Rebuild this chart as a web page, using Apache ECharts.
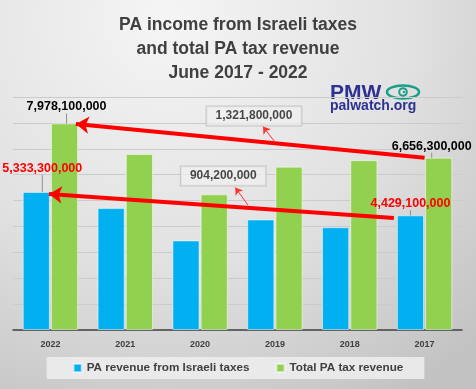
<!DOCTYPE html>
<html>
<head>
<meta charset="utf-8">
<script src="https://cdn.jsdelivr.net/npm/echarts@6/dist/echarts.min.js"></script>
<style>
html,body{margin:0;padding:0;}
#main{width:476px;height:389px;}
</style>
</head>
<body>
<div id="main"></div>
<script>
// ---- data ----
var categories = ['2022', '2021', '2020', '2019', '2018', '2017'];
var israeliTaxes = [5333300000, 4710000000, 3460000000, 4270000000, 3970000000, 4429100000];
var totalTax = [7978100000, 6800000000, 5240000000, 6310000000, 6560000000, 6656300000];
var seriesNames = ['PA revenue from Israeli taxes', 'Total PA tax revenue'];
var diffLabels = ['1,321,800,000', '904,200,000'];

var FONT = 'Liberation Sans, Arial, sans-serif';
function fmt(v) { return v.toLocaleString('en-US'); }

var first = 0, last = categories.length - 1;

function barItems(arr, color, labelIdx) {
  return arr.map(function (v, i) {
    var it = { value: v };
    if (labelIdx.indexOf(i) >= 0) {
      it.label = { show: true, position: 'top', color: color, fontWeight: 'bold', fontSize: 12.5,
        fontFamily: FONT, formatter: function (p) { return fmt(p.value); } };
    }
    return it;
  });
}

// annotation arrows on hidden value x axis (category i spans [i, i+1])
var bigArrows = [
  { coords: [[last + 0.5, totalTax[last]], [first + 0.84, totalTax[first] - 0.02e9]] },
  { coords: [[last + 0.09, israeliTaxes[last] - 0.1e9], [first + 0.48, israeliTaxes[first] - 0.08e9]] }
];
var smallArrows = [
  { coords: [[3.50, 7.26e9], [3.34, 7.86e9]] },
  { coords: [[3.14, 4.83e9], [2.97, 5.50e9]] }
];
var boxPoints = [[3.22, 8.27e9], [2.81, 5.95e9]];

var chart = echarts.init(document.getElementById('main'), null, { renderer: 'canvas' });

var option = {
  backgroundColor: {
    type: 'radial', x: 0.35, y: 0.05, r: 1.15,
    colorStops: [{ offset: 0, color: '#f5f5f5' }, { offset: 0.55, color: '#e1e1e1' }, { offset: 1, color: '#c2c2c2' }]
  },
  animation: false,
  title: {
    text: 'PA income from Israeli taxes\nand total PA tax revenue\nJune 2017 - 2022',
    left: 'center', top: 8,
    textStyle: { fontFamily: FONT, fontSize: 17.5, fontWeight: 'bold', color: '#404040', lineHeight: 24, align: 'center' }
  },
  grid: { left: 13, right: 14, top: 97, bottom: 59, containLabel: false },
  legend: {
    bottom: 10, left: 'center',
    data: seriesNames,
    icon: 'rect', itemWidth: 8, itemHeight: 8, itemGap: 26, itemTextGap: 3,
    backgroundColor: 'rgba(238,238,238,0.85)',
    padding: [5, 21, 5, 26],
    textStyle: { fontFamily: FONT, fontSize: 11.7, fontWeight: 'bold', color: '#404040' }
  },
  xAxis: [
    {
      type: 'category', data: categories,
      axisLine: { lineStyle: { color: '#404040', width: 1.5 } },
      axisTick: { show: false },
      axisLabel: { fontFamily: FONT, fontSize: 9, fontWeight: 'bold', color: '#404040', margin: 10 }
    },
    { type: 'value', min: 0, max: 6, show: false }
  ],
  yAxis: {
    type: 'value', min: 0, max: 9e9, interval: 1e9,
    axisLabel: { show: false }, axisLine: { show: false }, axisTick: { show: false },
    splitLine: { lineStyle: { color: '#cbcbcb', width: 1 } }
  },
  series: [
    {
      name: seriesNames[0], type: 'bar', barGap: '4%', barCategoryGap: '26%',
      itemStyle: { color: '#00B0F0', borderColor: 'rgba(255,255,255,0.5)', borderWidth: 1 },
      data: barItems(israeliTaxes, '#FF0000', [first, last]),
      labelLayout: function (p) {
        if (p.dataIndex === first) return { dx: 6, dy: -12 };
        return {};
      },
      labelLine: { show: true, lineStyle: { color: '#909090', width: 1 } }
    },
    {
      name: seriesNames[1], type: 'bar',
      itemStyle: { color: '#92D050', borderColor: 'rgba(255,255,255,0.5)', borderWidth: 1 },
      data: barItems(totalTax, '#000000', [first, last]),
      labelLayout: function (p) {
        if (p.dataIndex === first) return { dx: 2, dy: -5 };
        if (p.dataIndex === last) return { dx: -7, dy: 0 };
        return {};
      },
      labelLine: { show: true, lineStyle: { color: '#909090', width: 1 } }
    },
    {
      type: 'lines', coordinateSystem: 'cartesian2d', xAxisIndex: 1, yAxisIndex: 0,
      symbol: ['none', 'arrow'], symbolSize: 13, z: 5,
      lineStyle: { color: '#FF0000', width: 4, opacity: 1, curveness: 0 },
      data: bigArrows
    },
    {
      type: 'lines', coordinateSystem: 'cartesian2d', xAxisIndex: 1, yAxisIndex: 0,
      symbol: ['none', 'arrow'], symbolSize: 7, z: 5,
      lineStyle: { color: '#FF3030', width: 1, opacity: 1, curveness: 0 },
      data: smallArrows
    },
    {
      type: 'scatter', xAxisIndex: 1, yAxisIndex: 0, symbolSize: 0, z: 6,
      data: boxPoints.map(function (pt, i) { return { value: pt, name: diffLabels[i] }; }),
      label: {
        show: true, position: 'inside', formatter: '{b}',
        fontFamily: FONT, fontSize: 12, fontWeight: 'bold', color: '#1a1a1a',
        backgroundColor: 'rgba(240,240,240,0.9)', borderColor: '#bdbdbd', borderWidth: 1,
        padding: [4, 9, 3, 9]
      }
    }
  ],
  graphic: [
    { type: 'text', left: 330, top: 83, style: { text: 'PMW', fontFamily: FONT, fontSize: 21, fontWeight: 'bold', fill: '#2e3192' } },
    { type: 'text', left: 330, top: 99, style: { text: 'palwatch.org', fontFamily: FONT, fontSize: 14, fontWeight: 'bold', fill: '#2e3192' } },
    { type: 'ellipse', shape: { cx: 403, cy: 92, rx: 16, ry: 6.5 }, style: { fill: 'none', stroke: '#1a9e8a', lineWidth: 2.5 } },
    { type: 'circle', shape: { cx: 403, cy: 92, r: 3.8 }, style: { fill: 'none', stroke: '#1a9e8a', lineWidth: 2 } },
    { type: 'circle', shape: { cx: 404, cy: 92, r: 1.2 }, style: { fill: '#1a9e8a' } }
  ]
};
chart.setOption(option);
</script>
</body>
</html>
